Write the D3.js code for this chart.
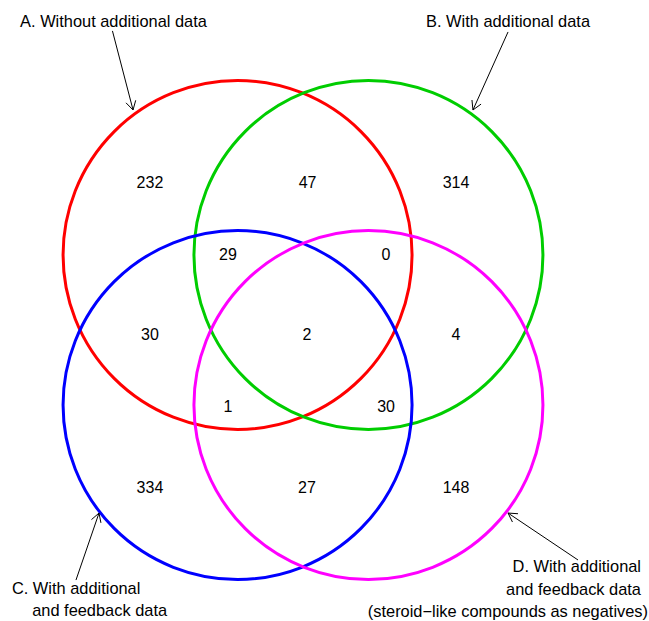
<!DOCTYPE html>
<html>
<head>
<meta charset="utf-8">
<script src="https://cdn.jsdelivr.net/npm/d3@7"></script>
<style>
  html, body { margin: 0; padding: 0; background: #ffffff; }
  svg { display: block; }
  text { font-family: "Liberation Sans", Arial, Helvetica, sans-serif; fill: #000; }
</style>
</head>
<body>
<script>
// Four-set Venn diagram of compound overlaps.

// Sets (A–D), their outline colours and layout of the circle centres (in radius units).
const setNames = ["A", "B", "C", "D"];
const setColors = ["#ff0000", "#00cd00", "#0000ff", "#ff00ff"];
const setCenters = [[-0.375, -0.43], [0.375, -0.43], [-0.375, 0.43], [0.375, 0.43]];

// Region membership (exclusive regions) and counts.
const regionSets = ["A", "AB", "B", "ABC", "ABD", "AC", "ABCD", "BD", "ACD", "BCD", "C", "CD", "D"];
const regionCounts = [232, 47, 314, 29, 0, 30, 2, 4, 1, 30, 334, 27, 148];
// Where each region's count is placed (radius units, figure centre = 0,0).
const regionAnchors = [
  [-0.877, -0.848], [0.026, -0.848], [0.877, -0.848],
  [-0.43, -0.436], [0.476, -0.436],
  [-0.877, 0.026], [0.023, 0.026], [0.877, 0.026],
  [-0.43, 0.436], [0.476, 0.436],
  [-0.877, 0.903], [0.023, 0.903], [0.877, 0.903]
];

// Set captions (one entry per line) with their arrows.
const captionLines = [
  ["A. Without additional data"],
  ["B. With additional data"],
  ["C. With additional", "and feedback data"],
  ["D. With additional", "and feedback data", "(steroid\u2212like compounds as negatives)"]
];

const W = 649, H = 621;
const unit = 174.5;
const x = d3.scaleLinear().domain([-1, 1]).range([303 - unit, 303 + unit]);
const y = d3.scaleLinear().domain([-1, 1]).range([330 - unit, 330 + unit]);

const svg = d3.select("body").append("svg")
  .attr("width", W).attr("height", H);

// Circles, drawn in set order A, B, C, D
svg.append("g").selectAll("circle")
  .data(setNames)
  .join("circle")
  .attr("cx", (d, i) => x(setCenters[i][0]))
  .attr("cy", (d, i) => y(setCenters[i][1]))
  .attr("r", x(1) - x(0))
  .attr("fill", "none")
  .attr("stroke", (d, i) => setColors[i])
  .attr("stroke-width", 3);

// Region counts
svg.append("g").selectAll("text")
  .data(regionCounts)
  .join("text")
  .attr("class", (d, i) => "region-" + regionSets[i])
  .attr("x", (d, i) => x(regionAnchors[i][0]))
  .attr("y", (d, i) => y(regionAnchors[i][1]) + 5.8)
  .attr("text-anchor", "middle")
  .attr("font-size", 16)
  .text(d => d);

// Caption placement: anchor of first line, anchor type, per-line x offsets, arrow start/end (radius units)
const captionLayout = [
  { x: -1.086, y: -1.735, anchor: "middle", dx: [0], from: [-1.092, -1.714], to: [-0.974, -1.261] },
  { x: 1.175, y: -1.735, anchor: "middle", dx: [0], from: [1.175, -1.708], to: [0.974, -1.261] },
  { x: -1.668, y: 1.513, anchor: "start", dx: [0, 0.116], from: [-1.301, 1.433], to: [-1.169, 1.049] },
  { x: 1.937, y: 1.389, anchor: "end", dx: [0, 0, 0.04], from: [1.576, 1.318], to: [1.175, 1.049] }
];
const lineStep = 22.3;

const cap = svg.append("g");
captionLines.forEach((lines, i) => {
  const L = captionLayout[i];
  lines.forEach((line, j) => {
    cap.append("text")
      .attr("x", x(L.x + L.dx[j]))
      .attr("y", y(L.y) + j * lineStep)
      .attr("text-anchor", L.anchor)
      .attr("font-size", 16.4)
      .text(line);
  });

  // Arrow with an open head
  const x1 = x(L.from[0]), y1 = y(L.from[1]);
  const x2 = x(L.to[0]), y2 = y(L.to[1]);
  const ang = Math.atan2(y2 - y1, x2 - x1);
  const head = 10, spread = Math.PI / 6;
  const p = d3.path();
  p.moveTo(x1, y1); p.lineTo(x2, y2);
  p.moveTo(x2 - head * Math.cos(ang - spread), y2 - head * Math.sin(ang - spread));
  p.lineTo(x2, y2);
  p.lineTo(x2 - head * Math.cos(ang + spread), y2 - head * Math.sin(ang + spread));
  cap.append("path")
    .attr("d", p.toString())
    .attr("fill", "none")
    .attr("stroke", "#000")
    .attr("stroke-width", 1);
});
</script>
</body>
</html>
